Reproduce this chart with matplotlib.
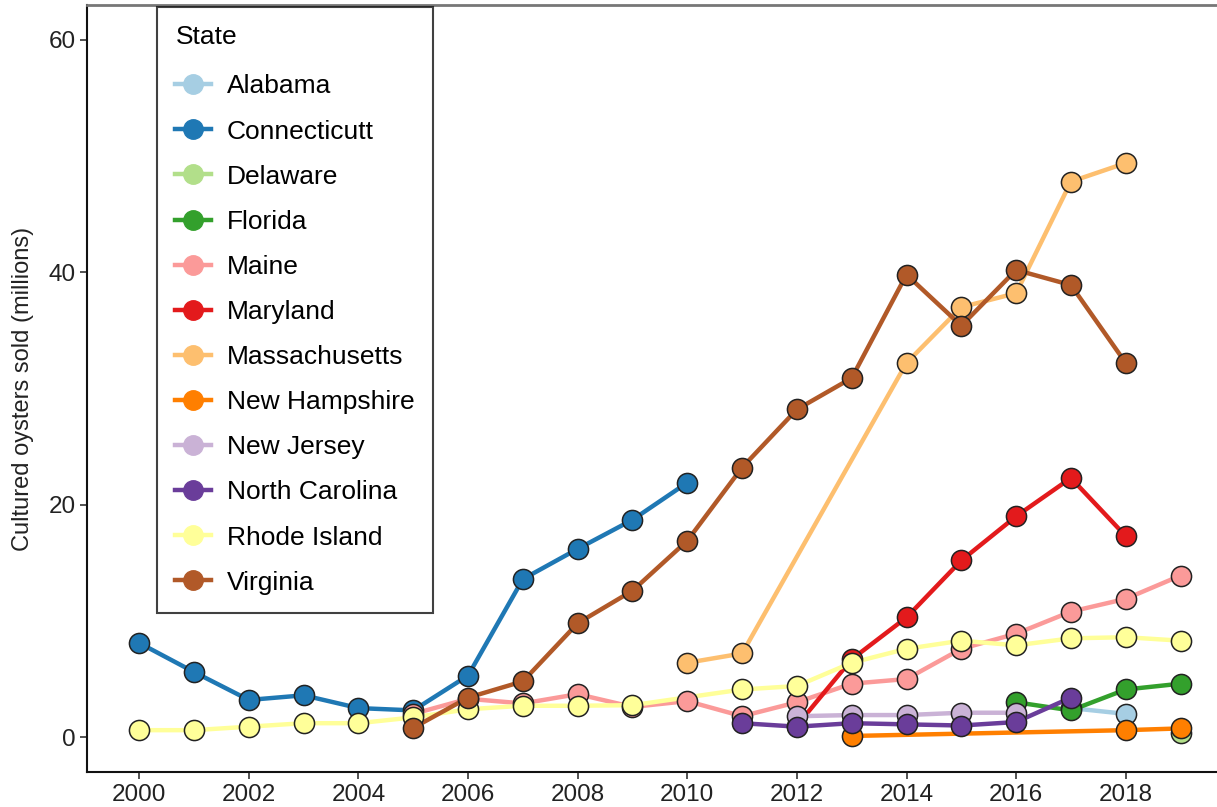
import numpy as np
import matplotlib
matplotlib.use("Agg")
import matplotlib.pyplot as plt

plt.rcParams['font.family'] = ['Liberation Sans', 'DejaVu Sans']

# datos (millones de ostras)
states = ['Alabama', 'Connecticutt', 'Delaware', 'Florida', 'Maine', 'Maryland',
          'Massachusetts', 'New Hampshire', 'New Jersey', 'North Carolina',
          'Rhode Island', 'Virginia']
colors = ['#A6CEE3', '#1F78B4', '#B2DF8A', '#33A02C', '#FB9A99', '#E31A1C',
          '#FDBF6F', '#FF7F00', '#CAB2D6', '#6A3D9A', '#FFFF99', '#B15928']

alabama_years = [2017, 2018]
alabama = [2.5, 2.0]

connecticut_years = list(range(2000, 2011))
connecticut = [8.1, 5.6, 3.2, 3.6, 2.5, 2.3, 5.3, 13.6, 16.2, 18.7, 21.9]

delaware_years = [2019]
delaware = [0.35]

florida_years = [2016, 2017, 2018, 2019]
florida = [3.0, 2.3, 4.1, 4.6]

maine_years = list(range(2005, 2020))
maine = [2.0, 3.3, 2.9, 3.7, 2.6, 3.1, 1.8, 3.0, 4.6, 5.0, 7.6, 8.9, 10.8, 11.9, 13.9]

maryland_years = list(range(2012, 2019))
maryland = [1.0, 6.7, 10.3, 15.2, 19.0, 22.3, 17.3]

massachusetts_years = [2010, 2011, 2014, 2015, 2016, 2017, 2018]
massachusetts = [6.4, 7.2, 32.2, 37.0, 38.2, 47.8, 49.4]

new_hampshire_years = [2013, 2018, 2019]
new_hampshire = [0.1, 0.6, 0.75]

new_jersey_years = list(range(2012, 2017))
new_jersey = [1.8, 1.9, 1.9, 2.1, 2.1]

north_carolina_years = list(range(2011, 2018))
north_carolina = [1.2, 0.9, 1.2, 1.1, 1.0, 1.3, 3.4]

rhode_island_years = list(range(2000, 2010)) + list(range(2011, 2020))
rhode_island = [0.6, 0.6, 0.9, 1.2, 1.2, 1.7, 2.4, 2.7, 2.7, 2.75,
                4.1, 4.4, 6.4, 7.6, 8.3, 7.9, 8.5, 8.6, 8.3]

virginia_years = list(range(2005, 2019))
virginia = [0.8, 3.4, 4.8, 9.8, 12.6, 16.9, 23.2, 28.2, 30.9, 39.8, 35.4, 40.2, 38.9, 32.2]

series = [
    (alabama_years, alabama), (connecticut_years, connecticut),
    (delaware_years, delaware), (florida_years, florida),
    (maine_years, maine), (maryland_years, maryland),
    (massachusetts_years, massachusetts), (new_hampshire_years, new_hampshire),
    (new_jersey_years, new_jersey), (north_carolina_years, north_carolina),
    (rhode_island_years, rhode_island), (virginia_years, virginia),
]

W, H = 1217, 807
fig = plt.figure(figsize=(W / 100, H / 100), dpi=100)
# el eje sigue mas alla del borde derecho como en la imagen recortada
ax = fig.add_axes([87.2 / W, 35 / H, (1232.6 - 87.2) / W, 767 / H])

# primero todas las lineas, despues los puntos (orden tipo ggplot)
for (x, y), c in zip(series, colors):
    ax.plot(x, y, color=c, lw=3.2, solid_capstyle='butt', zorder=2)
for (x, y), c in zip(series, colors):
    ax.plot(x, y, ls='none', marker='o', ms=14.5, mfc=c, mec='#222222', mew=1.1, zorder=3)

# entradas de la leyenda
handles = []
for s, c in zip(states, colors):
    h, = ax.plot([], [], color=c, lw=3.2, marker='o', ms=14, mfc=c, mec=c, label=s)
    handles.append(h)

ax.set_xlim(1999.05, 2019.95)
ax.set_ylim(-3, 63)
ax.set_xticks(range(2000, 2020, 2))
ax.set_yticks([0, 20, 40, 60])
ax.tick_params(labelsize=17.5, length=5, width=1.2, color='#333333', labelcolor='#222222')
ax.set_ylabel('Cultured oysters sold (millions)', fontsize=17, color='#222222', labelpad=10)

for side in ['left', 'bottom']:
    ax.spines[side].set_linewidth(1.5)
    ax.spines[side].set_color('#111111')
ax.spines['top'].set_color('#777777')
ax.spines['top'].set_linewidth(2)
ax.spines['right'].set_visible(False)

leg = ax.legend(handles=handles, title='State', loc='upper left',
                bbox_to_anchor=(157 / W, 1 - 7 / H), bbox_transform=fig.transFigure,
                borderaxespad=0, fontsize=19, title_fontsize=19, alignment='left',
                frameon=True, fancybox=False, edgecolor='#111111',
                handlelength=1.35, handletextpad=0.6, labelspacing=0.8,
                borderpad=0.7)
leg.get_frame().set_linewidth(1.5)
leg._legend_box.sep = 18

fig.savefig('out.png', dpi=100)
